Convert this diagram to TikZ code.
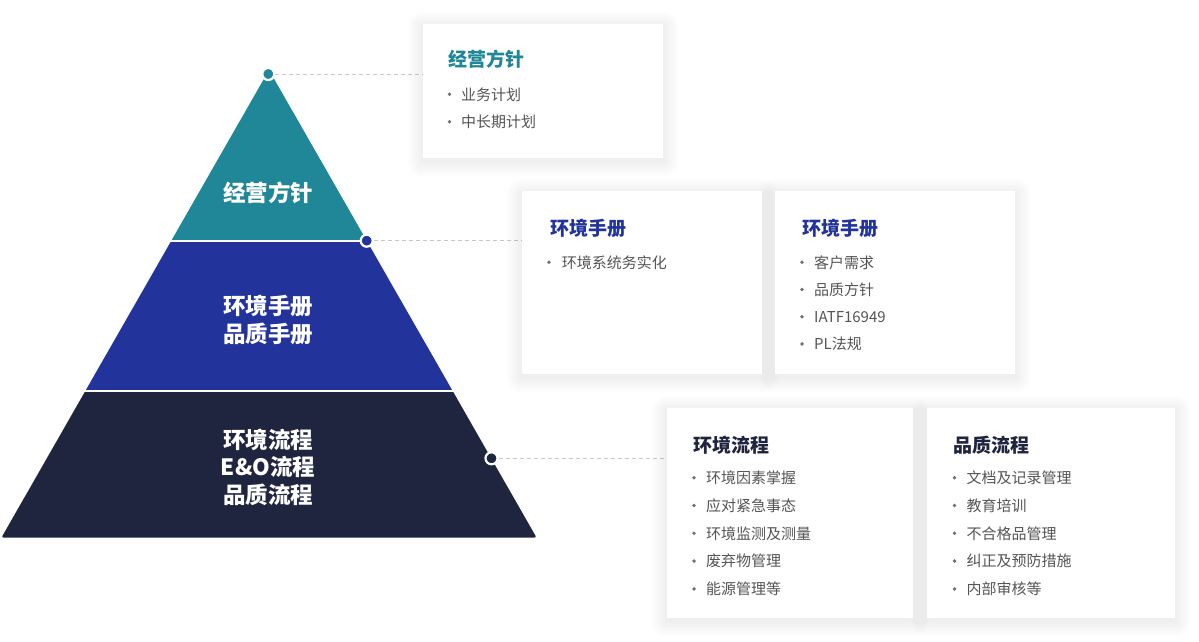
\documentclass[tikz,border=0pt]{standalone}
\usepackage{fontspec}
\setmainfont{Noto Sans CJK SC}
\definecolor{cteal}{HTML}{1F8797}
\definecolor{cblue}{HTML}{22349B}
\definecolor{cdark}{HTML}{20253F}
\definecolor{ctext}{HTML}{555555}
\definecolor{cbul}{HTML}{707070}
\definecolor{cdash}{HTML}{C8C8C8}
\pgfdeclarelayer{shadowlayer}
\pgfsetlayers{shadowlayer,main}
\tikzset{
  card/.style={fill=white, draw=none, anchor=north west, inner sep=0},
  ctitle/.style={font=\fontsize{19}{22}\selectfont\bfseries, text=#1, anchor=west, inner sep=0},
  citem/.style={font=\fontsize{15}{18}\selectfont, text=ctext, anchor=west, inner sep=0},
  cbullet/.style={circle, fill=cbul, draw=none, inner sep=0, minimum size=3.8pt},
  pyrlabel/.style={font=\fontsize{22.5}{27.5}\selectfont\bfseries, text=white, align=center, inner sep=0},
  pdot/.style={circle, fill=#1, draw=white, line width=2.2pt, inner sep=0, minimum size=12pt},
  leader/.style={draw=cdash, line width=0.9pt, dash pattern=on 4pt off 3pt}
}
\begin{document}
\begin{tikzpicture}[x=1pt,y=-1pt]
\useasboundingbox (0,0) rectangle (1199,642);

% pyramid
\begin{scope}
  \clip[rounded corners=2pt] (269,70) -- (1.5,537.5) -- (536.5,537.5) -- cycle;
  \fill[cteal] (0,60) rectangle (600,239.5);
  \fill[cblue] (0,242) rectangle (600,389.5);
  \fill[cdark] (0,392) rectangle (600,540);
\end{scope}
\node[pyrlabel] (p1) at (268,193) {经营方针};
\node[pyrlabel] (p2) at (268,320) {环境手册\\品质手册};
\node[pyrlabel] (p3) at (268,467) {环境流程\\E\&O流程\\品质流程};

% dots
\node[pdot=cteal] (d1) at (268.3,74) {};
\node[pdot=cblue] (d2) at (366.7,240.7) {};
\node[pdot=cdark] (d3) at (491.5,458.3) {};

\begin{pgfonlayer}{shadowlayer}
\fill[white] (0,0) rectangle (1199,642);
\end{pgfonlayer}

% cards
\node[card, minimum width=240pt, minimum height=134pt] (b1) at (423,24) {};
\node[card, minimum width=240pt, minimum height=183pt] (b2) at (522,191) {};
\node[card, minimum width=240pt, minimum height=183pt] (b3) at (775,191) {};
\node[card, minimum width=246pt, minimum height=210pt] (b4) at (667,408) {};
\node[card, minimum width=248pt, minimum height=210pt] (b5) at (927,408) {};

% leaders and shadows (under cards)
\begin{pgfonlayer}{shadowlayer}
\path[leader] (d1.east) -- (d1 -| b1.west);
\path[leader] (d2.east) -- (d2 -| b2.west);
\path[leader] (d3.east) -- (d3 -| b4.west);
\foreach \b in {b1,b2,b3,b4,b5}{
  \foreach \k in {1,...,16}{
    \fill[black, opacity=0.0042, rounded corners=\k pt]
      ([shift={(-\k,-\k+3)}]\b.north west) rectangle ([shift={(\k,\k+3)}]\b.south east);
  }
}
\end{pgfonlayer}

% card 1
\node[ctitle=cteal] (t1) at (448,59) {经营方针};
\foreach \t [count=\i] in {业务计划,中长期计划}{
  \node[cbullet] (b1d\i) at (449.5,{94.3+27.4*(\i-1)}) {};
  \node[citem] (b1t\i) at (461,{94.3+27.4*(\i-1)}) {\t};
}
% card 2
\node[ctitle=cblue] (t2) at (550,228.3) {环境手册};
\foreach \t [count=\i] in {环境系统务实化}{
  \node[cbullet] (b2d\i) at (549,{262.3+27.2*(\i-1)}) {};
  \node[citem] (b2t\i) at (561.7,{262.3+27.2*(\i-1)}) {\t};
}
% card 3
\node[ctitle=cblue] (t3) at (802.3,228.3) {环境手册};
\foreach \t [count=\i] in {客户需求,品质方针,IATF16949,PL法规}{
  \node[cbullet] (b3d\i) at (802,{262.3+27.2*(\i-1)}) {};
  \node[citem] (b3t\i) at (814,{262.3+27.2*(\i-1)}) {\t};
}
% card 4
\node[ctitle=cdark] (t4) at (693.5,445) {环境流程};
\foreach \t [count=\i] in {环境因素掌握,应对紧急事态,环境监测及测量,废弃物管理,能源管理等}{
  \node[cbullet] (b4d\i) at (694,{477.7+27.8*(\i-1)}) {};
  \node[citem] (b4t\i) at (706,{477.7+27.8*(\i-1)}) {\t};
}
% card 5
\node[ctitle=cdark] (t5) at (953.5,445) {品质流程};
\foreach \t [count=\i] in {文档及记录管理,教育培训,不合格品管理,纠正及预防措施,内部审核等}{
  \node[cbullet] (b5d\i) at (954.5,{477.7+27.8*(\i-1)}) {};
  \node[citem] (b5t\i) at (966.5,{477.7+27.8*(\i-1)}) {\t};
}
\end{tikzpicture}
\end{document}
